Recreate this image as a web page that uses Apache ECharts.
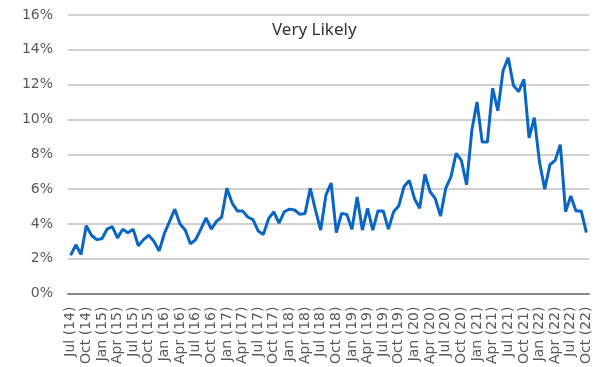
<!DOCTYPE html>
<html>
<head>
<meta charset="utf-8">
<script src="https://cdn.jsdelivr.net/npm/echarts@6/dist/echarts.min.js"></script>
<style>
html,body{margin:0;padding:0;background:#fff;}
#c{width:608px;height:367px;}
</style>
</head>
<body>
<div id="c"></div>
<script>
var chartTitle = 'Very Likely';
var monthNames = ['Jan','Feb','Mar','Apr','May','Jun','Jul','Aug','Sep','Oct','Nov','Dec'];
var startYear = 2014, startMonth = 6; // Jul 2014
var veryLikely = [
  2.2, 2.8, 2.25, 3.9, 3.35, 3.1, 3.15, 3.7, 3.85, 3.2,
  3.7, 3.5, 3.7, 2.75, 3.1, 3.35, 3.0, 2.45, 3.45, 4.15,
  4.85, 4.0, 3.65, 2.85, 3.1, 3.7, 4.35, 3.7, 4.15, 4.4,
  6.05, 5.2, 4.75, 4.75, 4.4, 4.25, 3.6, 3.4, 4.3, 4.7,
  4.05, 4.7, 4.85, 4.8, 4.55, 4.6, 6.05, 4.8, 3.65, 5.65,
  6.35, 3.5, 4.6, 4.55, 3.7, 5.55, 3.65, 4.9, 3.65, 4.75,
  4.75, 3.7, 4.7, 5.05, 6.15, 6.5, 5.45, 4.9, 6.85, 5.85,
  5.45, 4.45, 6.05, 6.7, 8.05, 7.65, 6.25, 9.35, 11.0, 8.7,
  8.7, 11.8, 10.5, 12.8, 13.55, 11.95, 11.6, 12.3, 8.95, 10.1,
  7.55, 6.0, 7.4, 7.65, 8.55, 4.7, 5.6, 4.75, 4.75, 3.5
];
var categories = [];
for (var i = 0; i < veryLikely.length; i++) {
  var m = startMonth + i;
  var y = startYear + Math.floor(m / 12);
  categories.push(monthNames[m % 12] + ' (' + String(y % 100).padStart(2, '0') + ')');
}
var yTicks = {min: 0, max: 16, interval: 2};

var chart = echarts.init(document.getElementById('c'), null, {renderer: 'canvas'});
chart.setOption({
  animation: false,
  backgroundColor: '#ffffff',
  title: {
    text: chartTitle,
    left: 267,
    top: 17,
    textStyle: {fontFamily: 'Noto Sans', fontSize: 17, fontWeight: 'normal', color: '#333333'}
  },
  grid: {left: 68, right: 19, top: 15, bottom: 72, containLabel: false},
  xAxis: {
    type: 'category',
    data: categories,
    boundaryGap: true,
    axisLine: {show: true, lineStyle: {color: '#868686', width: 2}},
    axisTick: {show: false},
    axisLabel: {
      interval: 2,
      rotate: 90,
      margin: 13,
      fontFamily: 'DejaVu Sans',
      fontSize: 14,
      color: '#595959'
    }
  },
  yAxis: {
    type: 'value',
    min: yTicks.min,
    max: yTicks.max,
    interval: yTicks.interval,
    axisLine: {show: false},
    axisTick: {show: false},
    axisLabel: {
      formatter: '{value}%',
      margin: 15,
      fontFamily: 'DejaVu Sans',
      fontSize: 14,
      color: '#595959'
    },
    splitLine: {show: true, lineStyle: {color: '#c0c0c0', width: 1.5}}
  },
  series: [{
    type: 'line',
    data: veryLikely,
    symbol: 'none',
    smooth: false,
    lineStyle: {color: '#0a66c2', width: 3},
    z: 3
  }]
});
</script>
</body>
</html>
